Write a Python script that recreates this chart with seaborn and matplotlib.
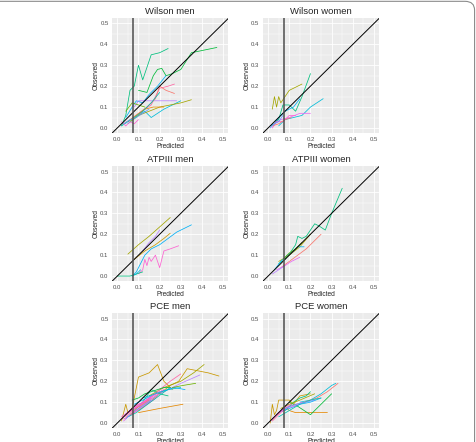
import pandas as pd
import seaborn as sns
import matplotlib.pyplot as plt
from matplotlib.patches import FancyBboxPatch
from matplotlib.ticker import MultipleLocator

# calibration curves per cohort: (cohort, predicted, observed)
wilson_men = [
    ("C07", [0.02, 0.04, 0.06, 0.08, 0.10, 0.12, 0.16, 0.20, 0.24], [0.01, 0.06, 0.18, 0.20, 0.30, 0.23, 0.35, 0.36, 0.38]),
    ("C06", [0.10, 0.14, 0.17, 0.19, 0.21, 0.23, 0.26, 0.28, 0.30, 0.35, 0.47], [0.18, 0.17, 0.25, 0.28, 0.285, 0.25, 0.26, 0.27, 0.28, 0.36, 0.385]),
    ("C10", [0.04, 0.07, 0.09, 0.12, 0.15, 0.19, 0.23], [0.05, 0.10, 0.13, 0.12, 0.16, 0.20, 0.25]),
    ("C09", [0.05, 0.10, 0.13, 0.16, 0.22, 0.30], [0.02, 0.06, 0.08, 0.05, 0.09, 0.13]),
    ("C12", [0.08, 0.10, 0.14, 0.20, 0.28], [0.10, 0.13, 0.13, 0.13, 0.13]),
    ("C15", [0.10, 0.13, 0.16, 0.20, 0.24, 0.27], [0.06, 0.09, 0.11, 0.19, 0.20, 0.21]),
    ("C01", [0.03, 0.06, 0.10, 0.14, 0.18, 0.20, 0.23, 0.27], [0.02, 0.04, 0.07, 0.10, 0.14, 0.20, 0.18, 0.165]),
    ("C04", [0.06, 0.10, 0.15, 0.20, 0.25, 0.30, 0.35], [0.03, 0.06, 0.08, 0.10, 0.11, 0.12, 0.135]),
    ("C02", [0.05, 0.09, 0.13, 0.17, 0.22], [0.03, 0.06, 0.09, 0.10, 0.10]),
    ("C08", [0.02, 0.05, 0.08, 0.12, 0.16, 0.20], [0.01, 0.03, 0.05, 0.08, 0.12, 0.17]),
    ("C14", [0.02, 0.04, 0.06, 0.08, 0.10], [0.03, 0.01, 0.03, 0.02, 0.04]),
    ("C05", [0.04, 0.07, 0.10, 0.13], [0.08, 0.12, 0.11, 0.10]),
    ("C11", [0.03, 0.06, 0.09, 0.12, 0.15], [0.02, 0.04, 0.05, 0.07, 0.09]),
]

wilson_women = [
    ("C04", [0.02, 0.03, 0.04, 0.05, 0.06, 0.08, 0.10, 0.14, 0.16], [0.09, 0.15, 0.10, 0.15, 0.12, 0.15, 0.18, 0.20, 0.21]),
    ("C07", [0.03, 0.05, 0.07, 0.10, 0.13, 0.16, 0.20], [0.02, 0.04, 0.11, 0.11, 0.08, 0.15, 0.26]),
    ("C09", [0.05, 0.08, 0.12, 0.16, 0.20, 0.26], [0.01, 0.04, 0.05, 0.06, 0.10, 0.14]),
    ("C10", [0.01, 0.03, 0.05, 0.08, 0.12, 0.15], [0.01, 0.02, 0.05, 0.08, 0.10, 0.14]),
    ("C13", [0.03, 0.06, 0.10, 0.15, 0.20], [0.02, 0.04, 0.05, 0.07, 0.07]),
    ("C14", [0.02, 0.04, 0.07, 0.10, 0.13], [0.00, 0.03, 0.03, 0.06, 0.06]),
    ("C01", [0.02, 0.05, 0.08, 0.11], [0.01, 0.02, 0.04, 0.05]),
    ("C11", [0.01, 0.03, 0.05, 0.07], [0.00, 0.02, 0.03, 0.06]),
]

atp_men = [
    ("C04", [0.05, 0.10, 0.15, 0.20, 0.25], [0.105, 0.15, 0.19, 0.235, 0.28]),
    ("C03", [0.08, 0.13, 0.18, 0.22, 0.25], [0.08, 0.12, 0.15, 0.18, 0.205]),
    ("C12", [0.12, 0.15, 0.18, 0.20], [0.12, 0.16, 0.19, 0.22]),
    ("C10", [0.07, 0.09, 0.11, 0.13, 0.16, 0.20, 0.24, 0.28, 0.32, 0.35], [0.00, 0.02, 0.06, 0.10, 0.13, 0.15, 0.18, 0.21, 0.23, 0.245]),
    ("C14", [0.10, 0.12, 0.13, 0.14, 0.15, 0.16, 0.18, 0.20, 0.22, 0.25, 0.29], [0.01, 0.03, 0.08, 0.05, 0.09, 0.07, 0.10, 0.04, 0.12, 0.13, 0.145]),
    ("C07", [0.00, 0.03, 0.06, 0.09, 0.12], [0.00, 0.00, 0.00, 0.01, 0.02]),
    ("C09", [0.07, 0.09, 0.11], [0.00, 0.01, 0.03]),
]

atp_women = [
    ("C07", [0.05, 0.08, 0.11, 0.13, 0.14, 0.16, 0.18, 0.20, 0.22, 0.24, 0.27, 0.30, 0.35], [0.06, 0.08, 0.12, 0.15, 0.19, 0.18, 0.19, 0.22, 0.25, 0.24, 0.22, 0.30, 0.42]),
    ("C04", [0.05, 0.10, 0.15, 0.20], [0.07, 0.10, 0.14, 0.20]),
    ("C10", [0.03, 0.06, 0.09, 0.12, 0.14, 0.17], [0.03, 0.07, 0.10, 0.12, 0.14, 0.14]),
    ("C01", [0.06, 0.10, 0.14, 0.18, 0.22, 0.25], [0.04, 0.07, 0.10, 0.13, 0.17, 0.20]),
    ("C13", [0.04, 0.08, 0.11, 0.15], [0.03, 0.05, 0.07, 0.09]),
    ("C12", [0.02, 0.05, 0.08], [0.01, 0.03, 0.05]),
    ("C05", [0.07, 0.10, 0.13, 0.16], [0.08, 0.11, 0.13, 0.16]),
]

pce_men = [
    ("C03", [0.02, 0.04, 0.05, 0.07, 0.10, 0.15, 0.19, 0.22, 0.26], [0.01, 0.09, 0.05, 0.07, 0.22, 0.24, 0.28, 0.20, 0.16]),
    ("C03", [0.10, 0.15, 0.20, 0.25, 0.29, 0.33, 0.38, 0.43, 0.48], [0.06, 0.10, 0.14, 0.18, 0.20, 0.26, 0.25, 0.24, 0.225]),
    ("C04", [0.15, 0.22, 0.30, 0.36, 0.41], [0.13, 0.17, 0.20, 0.24, 0.28]),
    ("C02", [0.10, 0.20, 0.31], [0.05, 0.07, 0.09]),
    ("C15", [0.05, 0.10, 0.15, 0.20, 0.25, 0.30], [0.05, 0.08, 0.12, 0.16, 0.20, 0.235]),
    ("C12", [0.10, 0.20, 0.30, 0.39], [0.08, 0.14, 0.19, 0.23]),
    ("C06", [0.07, 0.10, 0.13, 0.16, 0.19, 0.22, 0.25], [0.11, 0.12, 0.14, 0.15, 0.16, 0.17, 0.17]),
    ("C07", [0.08, 0.12, 0.16, 0.20, 0.24], [0.06, 0.10, 0.16, 0.14, 0.13]),
    ("C10", [0.08, 0.12, 0.16, 0.20, 0.24, 0.27, 0.32], [0.09, 0.11, 0.13, 0.15, 0.16, 0.17, 0.16]),
    ("C14", [0.02, 0.05, 0.08, 0.11, 0.14, 0.17, 0.20], [0.02, 0.05, 0.07, 0.09, 0.11, 0.13, 0.15]),
    ("C13", [0.03, 0.06, 0.09, 0.12, 0.15, 0.18], [0.01, 0.04, 0.06, 0.08, 0.10, 0.12]),
    ("C15", [0.04, 0.07, 0.10, 0.13, 0.16], [0.03, 0.06, 0.09, 0.10, 0.12]),
    ("C14", [0.02, 0.06, 0.10, 0.14, 0.18, 0.22], [0.03, 0.06, 0.08, 0.11, 0.14, 0.16]),
    ("C15", [0.03, 0.05, 0.08, 0.11, 0.14, 0.17, 0.19], [0.02, 0.03, 0.05, 0.07, 0.09, 0.11, 0.13]),
    ("C14", [0.04, 0.07, 0.10, 0.12, 0.15, 0.18], [0.04, 0.07, 0.09, 0.10, 0.12, 0.14]),
    ("C15", [0.05, 0.08, 0.11, 0.14, 0.18, 0.21], [0.03, 0.05, 0.08, 0.10, 0.13, 0.15]),
    ("C08", [0.05, 0.09, 0.13, 0.17, 0.21, 0.25], [0.03, 0.05, 0.08, 0.11, 0.14, 0.17]),
    ("C09", [0.12, 0.18, 0.24, 0.30], [0.12, 0.14, 0.16, 0.17]),
    ("C05", [0.26, 0.31, 0.37], [0.17, 0.18, 0.19]),
    ("C11", [0.04, 0.07, 0.10, 0.13, 0.16], [0.02, 0.05, 0.07, 0.09, 0.11]),
    ("C01", [0.06, 0.09, 0.12, 0.15], [0.04, 0.07, 0.09, 0.11]),
]

pce_women = [
    ("C03", [0.01, 0.02, 0.03, 0.04, 0.05, 0.07, 0.10, 0.12, 0.15, 0.20], [0.00, 0.09, 0.04, 0.06, 0.11, 0.11, 0.11, 0.09, 0.13, 0.14]),
    ("C02", [0.08, 0.10, 0.13, 0.16, 0.20, 0.24, 0.28], [0.08, 0.06, 0.05, 0.05, 0.05, 0.05, 0.05]),
    ("C06", [0.10, 0.14, 0.17, 0.20, 0.24, 0.28, 0.30], [0.10, 0.08, 0.06, 0.04, 0.08, 0.12, 0.14]),
    ("C09", [0.15, 0.20, 0.25, 0.30, 0.32], [0.10, 0.11, 0.14, 0.18, 0.19]),
    ("C01", [0.10, 0.17, 0.23, 0.28, 0.33], [0.08, 0.10, 0.12, 0.15, 0.19]),
    ("C07", [0.08, 0.12, 0.15, 0.18, 0.20], [0.06, 0.10, 0.12, 0.13, 0.15]),
    ("C10", [0.05, 0.10, 0.15, 0.20, 0.25], [0.05, 0.07, 0.09, 0.10, 0.12]),
    ("C04", [0.06, 0.10, 0.15, 0.22], [0.07, 0.09, 0.11, 0.14]),
    ("C14", [0.01, 0.03, 0.05, 0.07, 0.09, 0.11], [0.01, 0.03, 0.05, 0.06, 0.08, 0.09]),
    ("C15", [0.02, 0.04, 0.06, 0.08, 0.10], [0.01, 0.03, 0.05, 0.07, 0.08]),
    ("C14", [0.02, 0.04, 0.06, 0.08], [0.02, 0.04, 0.06, 0.08]),
    ("C13", [0.04, 0.08, 0.12, 0.16], [0.04, 0.07, 0.08, 0.10]),
    ("C08", [0.05, 0.10, 0.15, 0.20, 0.25], [0.03, 0.06, 0.09, 0.11, 0.12]),
    ("C11", [0.08, 0.13, 0.18, 0.22], [0.07, 0.09, 0.10, 0.11]),
]

panel_titles = ["Wilson men", "Wilson women", "ATPIII men", "ATPIII women", "PCE men", "PCE women"]
panel_data = [wilson_men, wilson_women, atp_men, atp_women, pce_men, pce_women]
threshold = 0.075
ticks = [0.0, 0.1, 0.2, 0.3, 0.4, 0.5]

# ggplot2 default hue palette (15 levels)
cohort_colors = {
    "C01": "#F8766D", "C02": "#E58700", "C03": "#C99800", "C04": "#A3A500",
    "C05": "#6BB100", "C06": "#00BA38", "C07": "#00BF7D", "C08": "#00C0AF",
    "C09": "#00BCD8", "C10": "#00B0F6", "C11": "#619CFF", "C12": "#B983FF",
    "C13": "#E76BF3", "C14": "#FD61D1", "C15": "#FF67A4",
}

rows = []
for title, series in zip(panel_titles, panel_data):
    for i, (cohort, xs, ys) in enumerate(series):
        for x, y in zip(xs, ys):
            rows.append((title, cohort, f"{title}-{i}", x, y))
df = pd.DataFrame(rows, columns=["panel", "cohort", "line", "predicted", "observed"])

sns.set_theme(style="darkgrid", rc={
    "axes.facecolor": "#EBEBEB",
    "grid.color": "white",
    "axes.edgecolor": "none",
})
plt.rcParams["font.family"] = ["Liberation Sans", "DejaVu Sans"]

fig = plt.figure(figsize=(4.76, 4.42), dpi=100)

# rounded frame (left and bottom edges fall outside the canvas)
frame = FancyBboxPatch((-0.05, -0.05), 1.047, 1.047, boxstyle="round,pad=0,rounding_size=0.02",
                       transform=fig.transFigure, fill=False, edgecolor="#8c8c8c", lw=0.8)
fig.patches.append(frame)

lefts = [112 / 476, 262.8 / 476]
bottoms = [1 - 133.2 / 442, 1 - 281.3 / 442, 1 - 428.3 / 442]
w, h = 116.5 / 476, 115 / 442

for k, title in enumerate(panel_titles):
    r, c = divmod(k, 2)
    ax = fig.add_axes([lefts[c], bottoms[r], w, h])
    sub = df[df["panel"] == title]
    sns.lineplot(data=sub, x="predicted", y="observed", hue="cohort", units="line",
                 estimator=None, sort=False, palette=cohort_colors, legend=False,
                 lw=0.55, ax=ax)
    ax.axline((0, 0), slope=1, color="black", lw=0.7, zorder=3)
    ax.axvline(threshold, color="#4D4D4D", lw=1.1, zorder=3)
    ax.set_xlim(-0.025, 0.525)
    ax.set_ylim(-0.025, 0.525)
    ax.set_xticks(ticks)
    ax.set_yticks(ticks)
    ax.xaxis.set_minor_locator(MultipleLocator(0.05))
    ax.yaxis.set_minor_locator(MultipleLocator(0.05))
    ax.grid(which="major", color="white", lw=0.6)
    ax.grid(which="minor", color="white", lw=0.3)
    ax.set_axisbelow(True)
    ax.tick_params(which="major", length=1.5, width=0.5, color="#333333",
                   labelsize=4.3, labelcolor="#4D4D4D", pad=1)
    ax.tick_params(which="minor", length=0)
    ax.set_title(title, fontsize=6.8, pad=3)
    ax.set_xlabel("Predicted", fontsize=4.8, labelpad=1)
    ax.set_ylabel("Observed", fontsize=4.8, labelpad=0.5)

fig.savefig("out.png", dpi=100)
